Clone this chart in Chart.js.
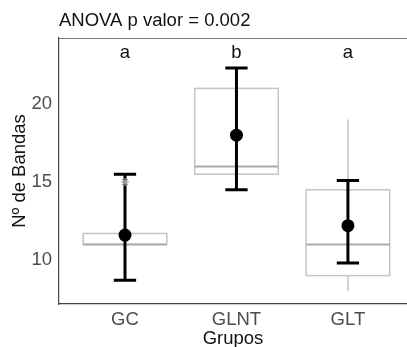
<!DOCTYPE html>
<html>
<head>
<meta charset="utf-8">
<script src="https://cdn.jsdelivr.net/npm/chart.js@4"></script>
<style>
  html, body { margin: 0; padding: 0; background: #fff; overflow: hidden; }
  canvas { display: block; }
</style>
</head>
<body>
<canvas id="chart" width="407" height="347"></canvas>
<script>
// Groups and summary stats
const groups = ["GC", "GLNT", "GLT"];
const means = [11.6, 18.0, 12.2];
const ciLow = [8.7, 14.5, 9.8];
const ciHigh = [15.5, 22.3, 15.1];
const q1 = [11.0, 15.5, 9.0];
const medians = [11.0, 16.0, 11.0];
const q3 = [11.7, 21.0, 14.5];
const whiskerLow = [11.0, 15.5, 8.0];
const whiskerHigh = [11.7, 21.0, 19.0];
const outliers = [[15], [], []];
const letters = ["a", "b", "a"];
const letterLevel = 23.3;
const yTicks = [10, 15, 20];

const FONT = "'Liberation Sans', Arial, sans-serif";
const FS = 18.5;

// boxplots + error bars drawn behind the mean points
const boxPlugin = {
  id: "boxes",
  beforeDatasetsDraw(chart) {
    const c = chart.ctx;
    const x = chart.scales.x;
    const y = chart.scales.y;
    const area = chart.chartArea;
    const unit = x.getPixelForValue(2) - x.getPixelForValue(1);
    const half = unit * 0.375;
    const cap = unit * 0.1;

    c.save();
    // top border of the panel
    c.strokeStyle = "#777";
    c.lineWidth = 1;
    c.beginPath();
    c.moveTo(area.left, area.top + 0.5);
    c.lineTo(area.right, area.top + 0.5);
    c.stroke();

    groups.forEach((g, i) => {
      const cx = x.getPixelForValue(i + 1);
      // whiskers
      c.strokeStyle = "#c4c4c4";
      c.lineWidth = 1.5;
      c.beginPath();
      c.moveTo(cx, y.getPixelForValue(whiskerHigh[i]));
      c.lineTo(cx, y.getPixelForValue(q3[i]));
      c.moveTo(cx, y.getPixelForValue(q1[i]));
      c.lineTo(cx, y.getPixelForValue(whiskerLow[i]));
      c.stroke();
      // box
      const top = y.getPixelForValue(q3[i]);
      const bot = y.getPixelForValue(q1[i]);
      c.fillStyle = "#fff";
      c.fillRect(cx - half, top, half * 2, bot - top);
      c.strokeRect(cx - half, top, half * 2, bot - top);
      // median
      c.strokeStyle = "#aaaaaa";
      c.lineWidth = 2;
      c.beginPath();
      const my = y.getPixelForValue(medians[i]);
      c.moveTo(cx - half, my);
      c.lineTo(cx + half, my);
      c.stroke();
    });

    // error bars
    c.strokeStyle = "#000";
    c.lineWidth = 3;
    groups.forEach((g, i) => {
      const cx = x.getPixelForValue(i + 1);
      const hi = y.getPixelForValue(ciHigh[i]);
      const lo = y.getPixelForValue(ciLow[i]);
      c.beginPath();
      c.moveTo(cx, hi);
      c.lineTo(cx, lo);
      c.moveTo(cx - cap, hi);
      c.lineTo(cx + cap, hi);
      c.moveTo(cx - cap, lo);
      c.lineTo(cx + cap, lo);
      c.stroke();
    });

    // significance letters
    c.fillStyle = "#111";
    c.font = FS + "px " + FONT;
    c.textAlign = "center";
    c.textBaseline = "middle";
    letters.forEach((l, i) => {
      c.fillText(l, x.getPixelForValue(i + 1), y.getPixelForValue(letterLevel));
    });
    c.restore();
  },
};

const outlierPoints = [];
outliers.forEach((vals, i) => vals.forEach((v) => outlierPoints.push({ x: i + 1, y: v })));

new Chart(document.getElementById("chart"), {
  type: "scatter",
  data: {
    datasets: [
      {
        data: outlierPoints,
        pointStyle: "star",
        pointRadius: 4,
        borderColor: "#9a9a9a",
        borderWidth: 1.2,
      },
      {
        data: means.map((m, i) => ({ x: i + 1, y: m })),
        pointRadius: 6.5,
        backgroundColor: "#000",
        borderColor: "#000",
        borderWidth: 0,
      },
    ],
  },
  options: {
    responsive: false,
    animation: false,
    devicePixelRatio: 1,
    layout: { autoPadding: false, padding: { top: 4, right: 0, left: 0, bottom: 0 } },
    plugins: {
      legend: { display: false },
      tooltip: { enabled: false },
      title: {
        display: true,
        text: "ANOVA p valor = 0.002",
        align: "start",
        fullSize: false,
        color: "#111",
        font: { family: FONT, size: FS, weight: "normal" },
        padding: { top: 6, bottom: 5.8 },
      },
    },
    scales: {
      x: {
        type: "linear",
        min: 0.408,
        max: 3.53,
        afterBuildTicks: (s) => { s.ticks = [1, 2, 3].map((v) => ({ value: v })); },
        afterFit: (s) => { s.height = 43; s.paddingLeft = 0; s.paddingRight = 0; },
        grid: { display: false, drawTicks: true, tickLength: 4, tickColor: "#555" },
        border: { display: true, color: "#444", width: 1.2 },
        ticks: {
          color: "#4d4d4d",
          font: { family: FONT, size: FS },
          padding: 1,
          callback: (v) => groups[v - 1],
        },
        title: {
          display: true,
          text: "Grupos",
          color: "#111",
          font: { family: FONT, size: FS, lineHeight: 0.9 },
          padding: { top: 0, bottom: 0 },
        },
      },
      y: {
        min: 7.18,
        max: 24.23,
        afterBuildTicks: (s) => { s.ticks = yTicks.map((v) => ({ value: v })); },
        afterFit: (s) => { s.width = 59; },
        grid: { display: false, drawTicks: true, tickLength: 4, tickColor: "#555" },
        border: { display: true, color: "#444", width: 1.2 },
        ticks: {
          color: "#4d4d4d",
          font: { family: FONT, size: FS },
          padding: 3,
        },
        title: {
          display: true,
          text: "Nº de Bandas",
          color: "#111",
          font: { family: FONT, size: FS },
          padding: { top: 9, bottom: 0 },
        },
      },
    },
  },
  plugins: [boxPlugin],
});
</script>
</body>
</html>
